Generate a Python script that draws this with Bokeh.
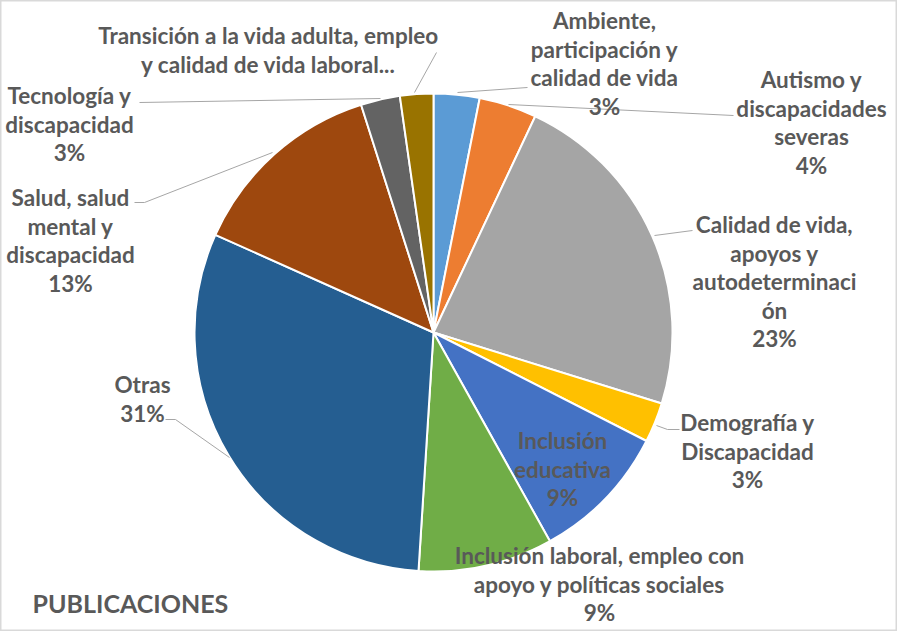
import math
from bokeh.plotting import figure
from bokeh.models import Range1d, ColumnDataSource
from bokeh.core.properties import value
from bokeh.embed import file_html
from bokeh.resources import INLINE

# ---- data ----
categories = [
    "Ambiente, participación y calidad de vida",
    "Autismo y discapacidades severas",
    "Calidad de vida, apoyos y autodeterminación",
    "Demografía y Discapacidad",
    "Inclusión educativa",
    "Inclusión laboral, empleo con apoyo y políticas sociales",
    "Otras",
    "Salud, salud mental y discapacidad",
    "Tecnología y discapacidad",
    "Transición a la vida adulta, empleo y calidad de vida laboral",
]
values = [3.1, 3.9, 22.8, 2.7, 9.4, 9.1, 30.7, 13.4, 2.65, 2.25]
colors = ["#5B9BD5", "#ED7D31", "#A5A5A5", "#FFC000", "#4472C4",
          "#70AD47", "#255E91", "#9E480E", "#636363", "#997300"]
label_lines = [
    ["Ambiente,", "participación y", "calidad de vida"],
    ["Autismo y", "discapacidades", "severas"],
    ["Calidad de vida,", "apoyos y", "autodeterminaci", "ón"],
    ["Demografía y", "Discapacidad"],
    ["Inclusión", "educativa"],
    ["Inclusión laboral, empleo con", "apoyo y políticas sociales"],
    ["Otras"],
    ["Salud, salud", "mental y", "discapacidad"],
    ["Tecnología y", "discapacidad"],
    ["Transición a la vida adulta, empleo", "y calidad de vida laboral..."],
]
show_percent = [True, True, True, True, True, True, True, True, True, False]
title_text = "PUBLICACIONES"

# ---- layout (page pixel positions) ----
W, H = 897, 631
OX, OY = 8, 8
def Y(py):
    return (OY + H) - py

cx, cy, R = 441, 340, 239
label_pos = [  # (center x, first line center y) in page px
    (612, 28), (819, 87), (782, 232), (755, 430), (570, 448),
    (607, 563), (150, 392), (78, 205), (77, 103), (276, 43),
]
LH = 28.6

leaders = [
    [(465, 100), (535, 95)],
    [(516, 112), (741, 123)],
    [(662, 243), (700, 238)],
    [(664, 433), (675, 437), (687, 437)],
    None,
    None,
    [(237, 465), (183, 427), (173, 427)],
    [(280, 160), (152, 210), (142, 210)],
    [(388, 106), (147, 110)],
    [(422, 100), (444, 60)],
]

p = figure(width=W, height=H, output_backend="svg", toolbar_location=None,
           x_range=Range1d(OX, OX + W), y_range=Range1d(0, H),
           min_border=0, background_fill_color="white")
p.xaxis.visible = False
p.yaxis.visible = False
p.grid.visible = False
p.outline_line_color = "#D9D9D9"
p.outline_line_width = 2

total = sum(values)
starts, ends = [], []
cum = 0.0
for v in values:
    a0 = math.pi / 2 - 2 * math.pi * (cum + v) / total
    a1 = math.pi / 2 - 2 * math.pi * cum / total
    starts.append(a0)
    ends.append(a1)
    cum += v

src = ColumnDataSource(dict(x=[cx] * len(values), y=[Y(cy)] * len(values),
                            start=starts, end=ends, color=colors))
p.wedge(x="x", y="y", radius=R, radius_units="screen", start_angle="start",
        end_angle="end", fill_color="color", line_color="white", line_width=2,
        source=src)

for seg in leaders:
    if seg is None:
        continue
    p.line([q[0] for q in seg], [Y(q[1]) for q in seg],
           line_color="#A6A6A6", line_width=1)

tx, ty, tt = [], [], []
for i, lines in enumerate(label_lines):
    lx, ly = label_pos[i]
    all_lines = list(lines)
    if show_percent[i]:
        all_lines.append(f"{round(values[i] / total * 100)}%")
    for k, s in enumerate(all_lines):
        tx.append(lx)
        ty.append(Y(ly + k * LH))
        tt.append(s)

p.text(x=tx, y=ty, text=tt, text_align="center", text_baseline="middle",
       text_font=value("Lato"), text_font_style="bold", text_font_size="22.5px",
       text_color="#595959")

p.text(x=[40], y=[Y(610)], text=[title_text], text_align="left",
       text_baseline="middle", text_font=value("Lato"), text_font_style="bold",
       text_font_size="25px", text_color="#595959")

open("out.html", "w").write(file_html(p, INLINE))
